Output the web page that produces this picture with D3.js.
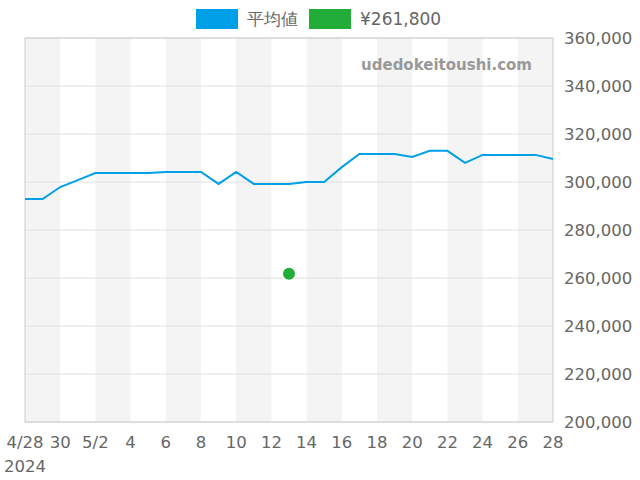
<!DOCTYPE html>
<html><head><meta charset="utf-8">
<script src="https://cdn.jsdelivr.net/npm/d3@7"></script>
<style>body{margin:0;background:#fff}text{font-family:"DejaVu Sans",sans-serif}</style>
</head><body><svg id="c" width="640" height="480"></svg>
<script>
const dates=["2024-04-28","2024-04-29","2024-04-30","2024-05-01","2024-05-02","2024-05-03","2024-05-04","2024-05-05","2024-05-06","2024-05-07","2024-05-08","2024-05-09","2024-05-10","2024-05-11","2024-05-12","2024-05-13","2024-05-14","2024-05-15","2024-05-16","2024-05-17","2024-05-18","2024-05-19","2024-05-20","2024-05-21","2024-05-22","2024-05-23","2024-05-24","2024-05-25","2024-05-26","2024-05-27","2024-05-28"];
const avg=[292900,292900,297900,300800,303700,303700,303700,303700,304200,304200,304200,299200,304200,299200,299200,299200,300000,300000,306200,311700,311700,311700,310400,313000,313000,308000,311300,311300,311300,311300,309600];
const dotDate="2024-05-13", dotVal=261800;
const yTicks=[200000,220000,240000,260000,280000,300000,320000,340000,360000];
const legend=[{label:"平均値",color:"#00a0e9"},{label:"¥261,800",color:"#22ac38"}];

const p=d3.timeParse("%Y-%m-%d");
const svg=d3.select("#c");
const L=25,R=553,T=38,B=422;
const x=d3.scaleTime().domain([p(dates[0]),p(dates[dates.length-1])]).range([L,R]);
const y=d3.scaleLinear().domain([200000,360000]).range([B,T]);
for(let i=0;i<dates.length-1;i+=4){
  svg.append("rect").attr("x",x(p(dates[i]))).attr("y",T).attr("width",x(p(dates[i+2]))-x(p(dates[i]))).attr("height",B-T).attr("fill","#f4f4f4");
}
yTicks.forEach(t=>svg.append("line").attr("x1",L).attr("x2",R).attr("y1",y(t)).attr("y2",y(t)).attr("stroke","#e0e0e0"));
svg.append("rect").attr("x",L).attr("y",T).attr("width",R-L).attr("height",B-T).attr("fill","none").attr("stroke","#ccc");
yTicks.forEach(t=>svg.append("text").attr("x",564).attr("y",y(t)+6).attr("font-size",16.5).attr("fill","#666").text(d3.format(",")(t)));
dates.forEach((d,i)=>{ if(i%2) return; const dt=p(d);
  let lab = (i===0)?"4/28":(dt.getDate()===2&&dt.getMonth()===4)?"5/2":String(dt.getDate());
  svg.append("text").attr("x",x(dt)).attr("y",448).attr("text-anchor","middle").attr("font-size",16.5).attr("fill","#666").text(lab);
});
svg.append("text").attr("x",25).attr("y",472).attr("text-anchor","middle").attr("font-size",16.5).attr("fill","#666").text("2024");
svg.append("path").datum(avg).attr("fill","none").attr("stroke","#00a0e9").attr("stroke-width",2)
 .attr("d",d3.line().x((v,i)=>x(p(dates[i]))).y(v=>y(v)));
svg.append("circle").attr("cx",x(p(dotDate))).attr("cy",y(dotVal)).attr("r",6).attr("fill","#22ac38");
svg.append("text").attr("x",532).attr("y",70).attr("text-anchor","end").attr("font-size",15).attr("font-weight","bold").attr("fill","#999").text("udedokeitoushi.com");
const lx=[196,309];
legend.forEach((l,i)=>{
  svg.append("rect").attr("x",lx[i]).attr("y",9).attr("width",42).attr("height",20).attr("fill",l.color);
  svg.append("text").attr("x",lx[i]+51).attr("y",25).attr("font-size",17).attr("fill","#666").text(l.label);
});
</script></body></html>
